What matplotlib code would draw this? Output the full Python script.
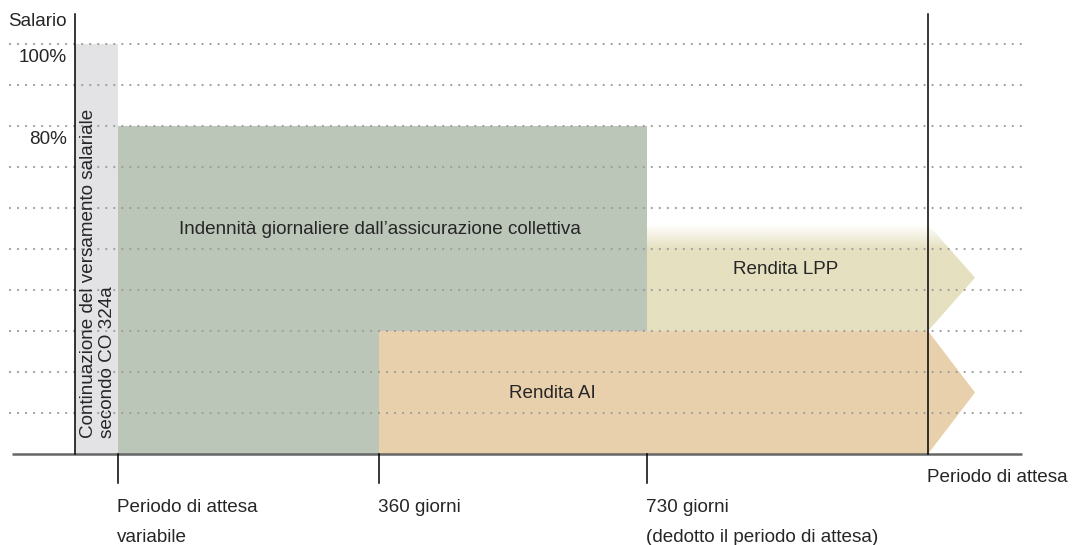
import numpy as np
import matplotlib
matplotlib.use("Agg")
import matplotlib.pyplot as plt
from matplotlib.patches import Polygon

plt.rcParams['font.family'] = ['Liberation Sans', 'DejaVu Sans']

# ---------------------------
# Dati (x in pixel del grafico, y in % del salario)
# ---------------------------
grid_levels   = [10, 20, 30, 40, 50, 60, 70, 80, 90, 100]
y_ticks       = [100, 80]
y_ticklabels  = ["100%", "80%"]

x_axis    = 75      # asse verticale
x_attesa  = 118     # fine periodo di attesa variabile
x_360     = 379     # 360 giorni
x_730     = 647     # 730 giorni
x_fine    = 928     # periodo di attesa (fine)
x_tip     = 975     # punta delle frecce

salario_pct   = 100   # continuazione del versamento salariale
indennita_pct = 80    # indennità giornaliera
ai_pct        = 30    # rendita AI
lpp_top_pct   = 56    # rendita LPP (con sfumatura)
lpp_full_pct  = 50

tick_x      = [x_attesa, x_360, x_730]
tick_labels = [["Periodo di attesa", "variabile"],
               ["360 giorni"],
               ["730 giorni", "(dedotto il periodo di attesa)"]]

c_grey  = "#e3e3e6"
c_green = "#bbc6b8"
c_ai    = "#e8d0ac"
c_lpp   = "#e5e0c0"
txt     = "#262626"

# ---------------------------
# Figura
# ---------------------------
W, H = 1072, 545
BASE = 454          # pixel della linea di base
PX_PER_PCT = 4.1

fig = plt.figure(figsize=(W/100, H/100), dpi=100)
ax = fig.add_axes([0, 0, 1, 1])
ax.set_xlim(0, W)
ax.set_ylim(-(H - BASE)/PX_PER_PCT, BASE/PX_PER_PCT)
ax.axis("off")

def py(pix):
    return (BASE - pix)/PX_PER_PCT

# blocchi
ax.fill_between([x_axis, x_attesa], 0, salario_pct, color=c_grey, lw=0, zorder=1)
ax.fill_between([x_attesa, x_730], 0, indennita_pct, color=c_green, lw=0, zorder=1)

ai_poly = Polygon([(x_360, 0), (x_360, ai_pct), (x_fine, ai_pct),
                   (x_tip, ai_pct/2), (x_fine, 0)],
                  closed=True, color=c_ai, lw=0, zorder=1)
ax.add_patch(ai_poly)

lpp_poly = Polygon([(x_730, ai_pct), (x_730, lpp_top_pct), (x_fine, lpp_top_pct),
                    (x_tip, (ai_pct + lpp_top_pct)/2), (x_fine, ai_pct)],
                   closed=True, fc="none", ec="none", zorder=1)
ax.add_patch(lpp_poly)
ny = 200
yy = np.linspace(ai_pct, lpp_top_pct, ny)
alpha = np.clip((lpp_top_pct - yy)/(lpp_top_pct - lpp_full_pct), 0, 1)
rgb = np.array(matplotlib.colors.to_rgb(c_lpp))
img = np.zeros((ny, 2, 4))
img[:, :, :3] = rgb
img[:, :, 3] = alpha[:, None]
im = ax.imshow(img, extent=[x_730, x_tip, ai_pct, lpp_top_pct], origin="lower",
               aspect="auto", interpolation="bilinear", zorder=1)
im.set_clip_path(lpp_poly)

# griglia punteggiata
for g in grid_levels:
    ax.plot([10, 1023], [g, g], color="#9c9c9c", lw=1.6,
            ls=(0, (0.01, 3.6)), dash_capstyle="round", zorder=3)

# assi
ax.plot([12, 1022], [0, 0], color="#666666", lw=1.8, zorder=4, solid_capstyle="butt")
ax.plot([x_axis, x_axis], [0, py(14)], color="black", lw=1.1, zorder=4)
ax.plot([x_fine, x_fine], [0, py(14)], color="black", lw=1.1, zorder=4)
for x in tick_x:
    ax.plot([x, x], [0, py(483)], color="black", lw=1.1, zorder=4)

fs = 13.6
ax.text(67, py(22), "Salario", ha="right", va="center", fontsize=fs, color=txt)
for v, lab in zip(y_ticks, y_ticklabels):
    ax.text(67, v - 3.2, lab, ha="right", va="center", fontsize=fs, color=txt)

for x, lines in zip(tick_x, tick_labels):
    for i, line in enumerate(lines):
        ax.text(x - 1, py(507 + 30*i), line, ha="left", va="center", fontsize=fs, color=txt)
ax.text(x_fine - 1, py(477), "Periodo di attesa", ha="left", va="center", fontsize=fs, color=txt)

ax.text(98, py(438), "Continuazione del versamento salariale\nsecondo CO 324a",
        rotation=90, ha="center", va="bottom", multialignment="left",
        linespacing=1.15, fontsize=fs, color=txt, zorder=5)
ax.text((x_attesa + x_730)/2 - 3, py(229), "Indennità giornaliere dall\u2019assicurazione collettiva",
        ha="center", va="center", fontsize=fs, color=txt, zorder=5)
ax.text(786, py(270), "Rendita LPP", ha="center", va="center", fontsize=fs, color=txt, zorder=5)
ax.text(552, py(393), "Rendita AI", ha="center", va="center", fontsize=fs, color=txt, zorder=5)

fig.savefig("out.png", dpi=100)
